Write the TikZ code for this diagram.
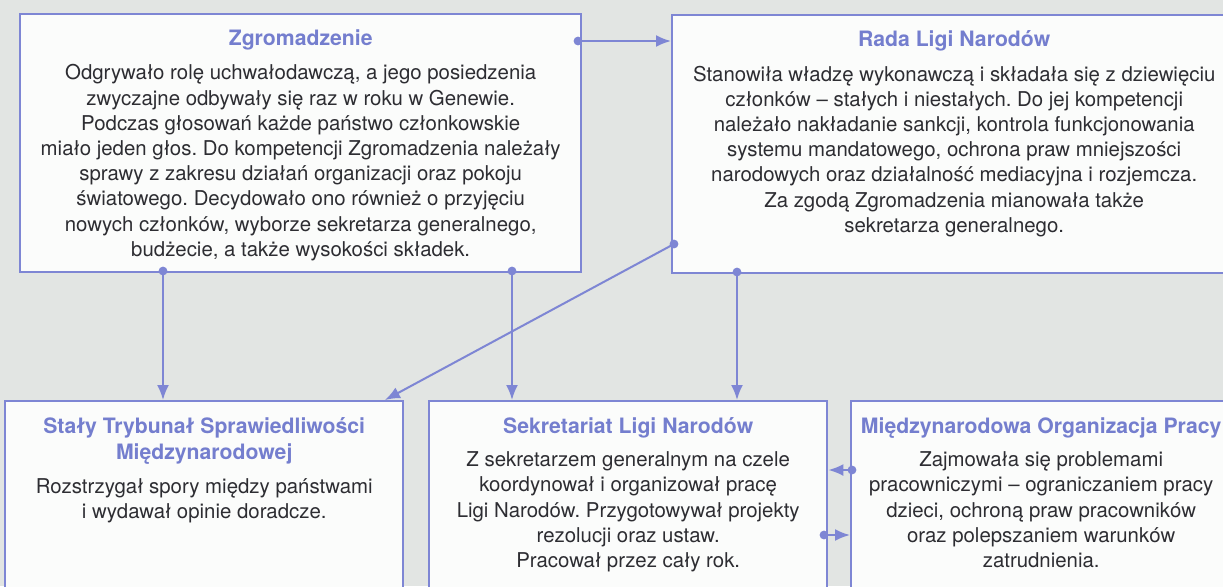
\documentclass[tikz,border=0pt]{standalone}
\usepackage{fontspec}
\setmainfont{TeX Gyre Heros}
\usetikzlibrary{positioning,arrows.meta}
\frenchspacing

\definecolor{paper}{RGB}{226,229,227}
\definecolor{boxline}{RGB}{126,134,212}
\definecolor{boxfill}{RGB}{251,252,251}
\definecolor{headblue}{RGB}{116,126,206}
\definecolor{bodygray}{RGB}{45,45,50}

\tikzset{
  box/.style={draw=boxline, fill=boxfill, line width=1.2pt, inner sep=0pt, anchor=north west},
  head/.style={font=\fontsize{10.6}{12.9}\selectfont\bfseries, text=headblue, align=center, inner sep=0pt},
  body/.style={font=\fontsize{10.2}{12.6}\selectfont, text=bodygray, align=center, inner sep=0pt},
  conn/.style={draw=boxline, line width=1pt, -{Latex[length=7.5pt,width=6pt]}},
}

\begin{document}
\begin{tikzpicture}[x=0.5pt, y=-0.5pt]
  \useasboundingbox (0,0) rectangle (1223,586);
  \fill[paper] (0,0) rectangle (1223,586);

  % boxes
  \node[box, minimum width=280.5pt, minimum height=129pt] (zgrom) at (19,13) {};
  \node[box, minimum width=282pt, minimum height=129pt] (rada) at (671,14) {};
  \node[box, minimum width=199pt, minimum height=110pt] (tryb) at (4,400) {};
  \node[box, minimum width=199pt, minimum height=110pt] (sekr) at (428,400) {};
  \node[box, minimum width=190pt, minimum height=110pt] (mop) at (850,400) {};

  % texts
  \node[head, below=8pt of zgrom.north] (zgromT) {Zgromadzenie};
  \node[body, below=7pt of zgromT] (zgromB) {Odgrywało rolę uchwałodawczą, a jego posiedzenia\\
    zwyczajne odbywały się raz w roku w Genewie.\\
    Podczas głosowań każde państwo członkowskie\\
    miało jeden głos. Do kompetencji Zgromadzenia należały\\
    sprawy z zakresu działań organizacji oraz pokoju\\
    światowego. Decydowało ono również o przyjęciu\\
    nowych członków, wyborze sekretarza generalnego,\\
    budżecie, a także wysokości składek.};

  \node[head, below=8pt of rada.north] (radaT) {Rada Ligi Narodów};
  \node[body, below=7pt of radaT] (radaB) {Stanowiła władzę wykonawczą i składała się z dziewięciu\\
    członków – stałych i niestałych. Do jej kompetencji\\
    należało nakładanie sankcji, kontrola funkcjonowania\\
    systemu mandatowego, ochrona praw mniejszości\\
    narodowych oraz działalność mediacyjna i rozjemcza.\\
    Za zgodą Zgromadzenia mianowała także\\
    sekretarza generalnego.};

  \node[head, below=8.5pt of tryb.north] (trybT) {Stały Trybunał Sprawiedliwości\\Międzynarodowej};
  \node[body, below=7pt of trybT] (trybB) {Rozstrzygał spory między państwami\\i wydawał opinie doradcze.};

  \node[head, below=8.5pt of sekr.north] (sekrT) {Sekretariat Ligi Narodów};
  \node[body, below=6.5pt of sekrT] (sekrB) {Z sekretarzem generalnym na czele\\
    koordynował i organizował pracę\\
    Ligi Narodów. Przygotowywał projekty\\
    rezolucji oraz ustaw.\\
    Pracował przez cały rok.};

  \node[head, below=8.5pt of mop.north] (mopT) {Międzynarodowa Organizacja Pracy};
  \node[body, below=6.5pt of mopT] (mopB) {Zajmowała się problemami\\
    pracowniczymi – ograniczaniem pracy\\
    dzieci, ochroną praw pracowników\\
    oraz polepszaniem warunków\\
    zatrudnienia.};

  % connectors
  \coordinate (zgE) at (578,41);
  \coordinate (zgA) at (163,271);
  \coordinate (zgB) at (512,271);
  \coordinate (radaA) at (737,272);
  \coordinate (radaW) at (674,244);
  \coordinate (trybNE) at (385,400);
  \coordinate (mopW) at (852,470);
  \coordinate (sekrE) at (824,535);

  \draw[conn] (zgE) -- (zgE -| rada.west);
  \draw[conn] (zgA) -- (zgA |- tryb.north);
  \draw[conn] (zgB) -- (zgB |- sekr.north);
  \draw[conn] (radaA) -- (radaA |- sekr.north);
  \draw[conn] (radaW) -- (trybNE);
  \draw[conn] (mopW) -- (mopW -| sekr.east);
  \draw[conn] (sekrE) -- (sekrE -| mop.west);
  \foreach \p in {zgE,zgA,zgB,radaA,radaW,mopW,sekrE}
    \fill[boxline] (\p) circle (2.2pt);
\end{tikzpicture}
\end{document}
